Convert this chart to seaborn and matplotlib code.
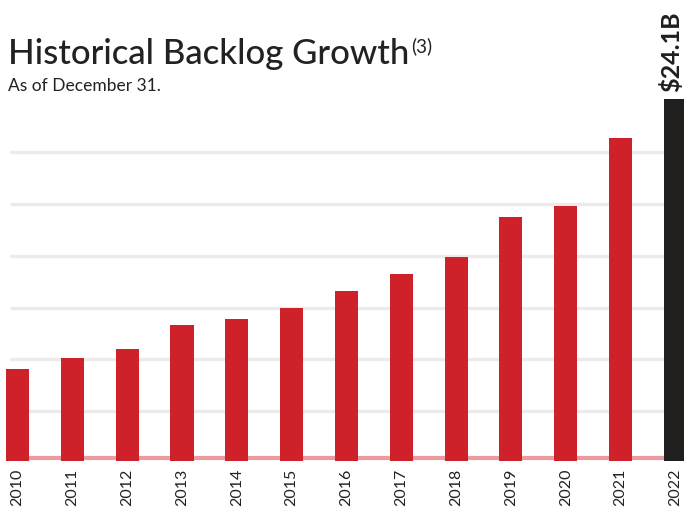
import matplotlib
matplotlib.use("Agg")
import matplotlib.pyplot as plt
import seaborn as sns
import pandas as pd

years = ["2010", "2011", "2012", "2013", "2014", "2015", "2016",
         "2017", "2018", "2019", "2020", "2021", "2022"]
backlog = [6.1, 6.83, 7.43, 9.03, 9.43, 10.17, 11.3, 12.43, 13.57,
           16.23, 16.97, 21.5, 24.1]
grid_levels = [3.3, 6.77, 10.2, 13.63, 17.1, 20.55]
title = "Historical Backlog Growth"
subtitle = "As of December 31."
top_label = "$24.1B"

RED = "#cf2129"
BLACK = "#201f1d"
colors = [RED] * (len(years) - 1) + [BLACK]

sns.set_theme(style="white")
plt.rcParams["font.family"] = ["Lato", "DejaVu Sans"]

W, H = 684, 507
fig = plt.figure(figsize=(W / 100, H / 100), dpi=100)

# axes geometry in pixels
c0, step = 17.5, 54.83
base_px, top_px = 460.5, 99.0
ax = fig.add_axes([0, 1 - base_px / H, 1, (base_px - top_px) / H])

df = pd.DataFrame({"year": years, "backlog": backlog})
sns.barplot(data=df, x="year", y="backlog", hue="year", palette=colors,
            legend=False, width=0.42, saturation=1, linewidth=0,
            ax=ax, zorder=3)

ax.set_xlim(-c0 / step, (W - c0) / step)
ax.set_ylim(0, backlog[-1])

x_from = (10 - c0) / step
x_to = (664 - c0) / step
for g in grid_levels:
    ax.plot([x_from, x_to], [g, g], color="#ebebe9", lw=2.4,
            solid_capstyle="butt", zorder=1)
ax.plot([x_from, x_to], [0.17, 0.17], color="#eb9aa0", lw=3,
        solid_capstyle="butt", zorder=2)

for s in ax.spines.values():
    s.set_visible(False)
ax.set_yticks([])
ax.set_xlabel("")
ax.set_ylabel("")
ax.tick_params(axis="x", length=0, pad=6, labelsize=11.5,
               labelcolor="#222222", labelrotation=90)
for lbl in ax.get_xticklabels():
    lbl.set_verticalalignment("top")

ax.text(11.93, backlog[-1] + 0.5, top_label, rotation=90, ha="center",
        va="bottom", fontsize=18, fontweight="bold", color=BLACK,
        clip_on=False)

fig.text(8 / W, 1 - 64 / H, title, fontsize=25, fontweight="medium",
         color="#222222", ha="left", va="baseline")
fig.text(411 / W, 1 - 52 / H, "(3)", fontsize=13.5, color="#222222",
         ha="left", va="baseline")
fig.text(8 / W, 1 - 91 / H, subtitle, fontsize=12.5, color="#222222",
         ha="left", va="baseline")

fig.savefig("out.png", dpi=100)
